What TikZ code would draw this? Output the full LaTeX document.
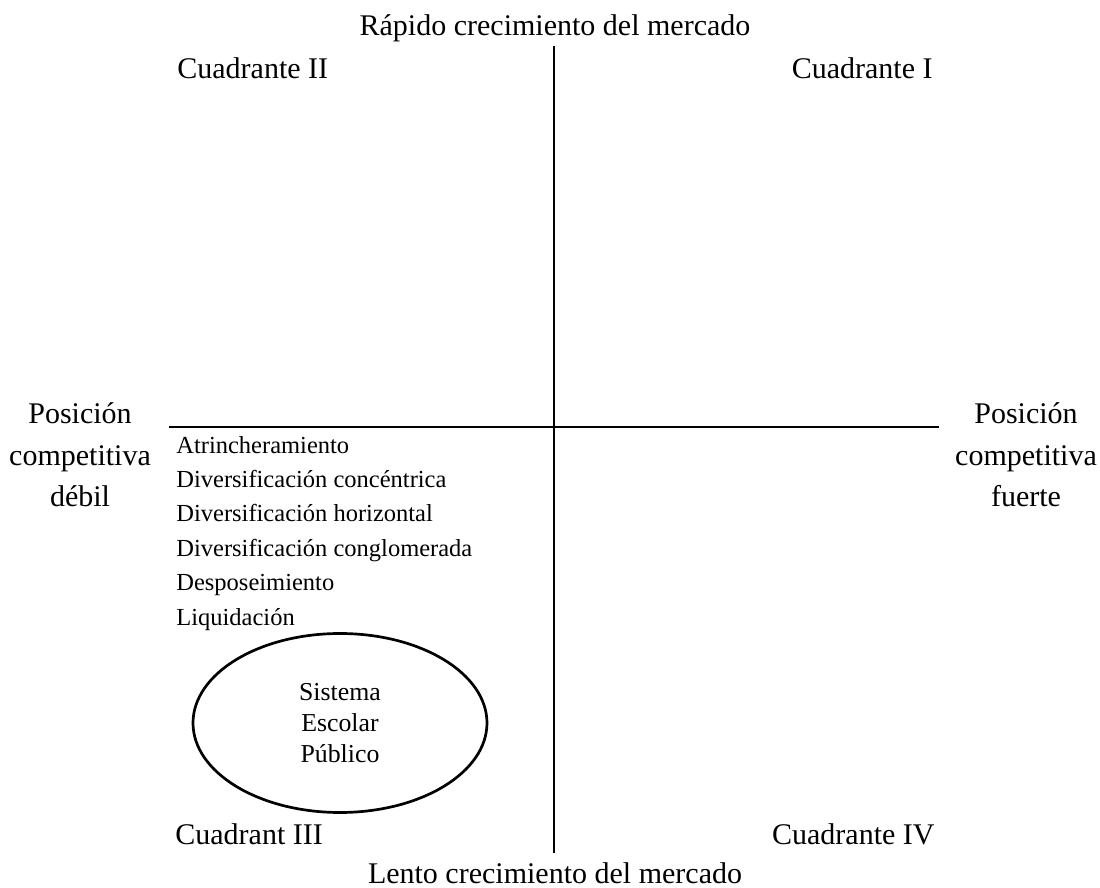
\documentclass[tikz,border=0pt]{standalone}
\usepackage{fontspec}
\setmainfont{Liberation Serif}
\usetikzlibrary{shapes.geometric}
\tikzset{
  axis line/.style={line width=0.85pt},
  big label/.style={font=\fontsize{15}{20.75}\selectfont, inner sep=0pt, anchor=base},
  side label/.style={big label, align=center, anchor=center},
  list item/.style={font=\fontsize{12.25}{17.2}\selectfont, inner sep=0pt, anchor=base west},
  school/.style={draw, ellipse, line width=1.35pt, inner sep=0pt,
    minimum width=147pt, minimum height=89.5pt, align=center,
    font=\fontsize{12.9}{15.5}\selectfont}
}
\begin{document}
\begin{tikzpicture}[x=0.5pt, y=-0.5pt]
  \useasboundingbox (0,0) rectangle (1100,888);
  % Axes
  \coordinate (top) at (554,46);
  \coordinate (bottom) at (554,853);
  \coordinate (left) at (169,427);
  \coordinate (right) at (939,427);
  \draw[axis line] (top) -- (bottom);
  \draw[axis line] (left) -- (right);
  % Axis labels
  \node[big label] (rapido) at (555,36) {Rápido crecimiento del mercado};
  \node[big label] (lento) at (555,883) {Lento crecimiento del mercado};
  \node[side label] (debil) at (80,455) {Posición\\competitiva\\débil};
  \node[side label] (fuerte) at (1026,455) {Posición\\competitiva\\fuerte};
  % Quadrant names
  \node[big label, anchor=base west] (q2) at (177,79) {Cuadrante II};
  \node[big label, anchor=base east] (q1) at (933,79) {Cuadrante I};
  \node[big label, anchor=base west] (q3) at (175,844) {Cuadrant III};
  \node[big label, anchor=base east] (q4) at (935,844) {Cuadrante IV};
  % Strategies of quadrant III
  \foreach \txt [count=\i from 0] in {Atrincheramiento, Diversificación concéntrica,
      Diversificación horizontal, Diversificación conglomerada, Desposeimiento, Liquidación}
    \node[list item] (s\i) at (176,453+34.4*\i) {\txt};
  % Public school system
  \node[school] (sistema) at (340,723) {Sistema\\Escolar\\Público};
\end{tikzpicture}
\end{document}
